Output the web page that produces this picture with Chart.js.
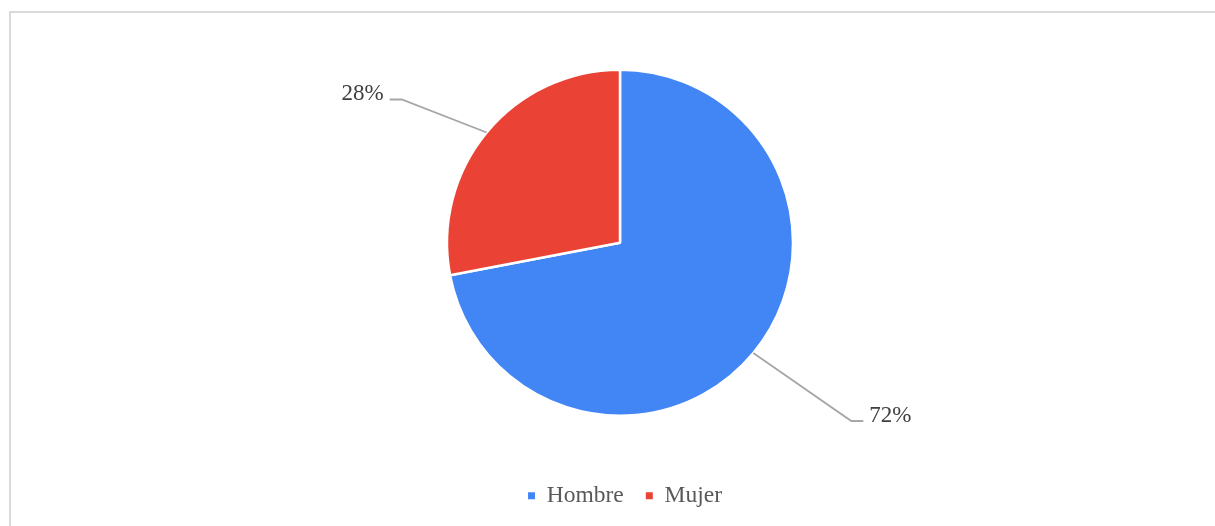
<!DOCTYPE html>
<html>
<head>
<meta charset="utf-8">
<script src="https://cdn.jsdelivr.net/npm/chart.js@4.4.1/dist/chart.umd.min.js"></script>
<style>
  html, body { margin: 0; padding: 0; background: #ffffff; }
  #wrap { position: relative; width: 1215px; height: 526px; overflow: hidden; }
  #frame {
    position: absolute; left: 9px; top: 11px; right: -4px; bottom: -4px;
    border-left: 2px solid #d9d9d9; border-top: 2px solid #d9d9d9;
  }
  #chart { position: absolute; left: 0; top: 0; }
</style>
</head>
<body>
<div id="wrap">
  <div id="frame"></div>
  <canvas id="chart" width="1215" height="526"></canvas>
</div>
<script>
// Gender split of respondents
const categories = ['Hombre', 'Mujer'];
const shares = [72, 28];
const valueLabels = ['72%', '28%'];
const sliceColors = ['#4285F4', '#EA4335'];

const FONT = "'Liberation Serif', 'Times New Roman', serif";

// Draws each slice's percentage with an elbow leader line.
const leaderLabels = {
  id: 'leaderLabels',
  afterDatasetsDraw(chart, args, opts) {
    const ctx = chart.ctx;
    const meta = chart.getDatasetMeta(0);
    meta.data.forEach((arc, i) => {
      const p = arc.getProps(['x', 'y', 'startAngle', 'endAngle', 'outerRadius'], true);
      const mid = (p.startAngle + p.endAngle) / 2;
      const ex = p.x + Math.cos(mid) * p.outerRadius;
      const ey = p.y + Math.sin(mid) * p.outerRadius;
      const off = opts.elbows[i];
      const bx = ex + off[0];
      const by = ey + off[1];
      const dir = Math.cos(mid) >= 0 ? 1 : -1;
      const tx = bx + dir * opts.tail;
      ctx.save();
      ctx.strokeStyle = opts.lineColor;
      ctx.lineWidth = opts.lineWidth;
      ctx.beginPath();
      ctx.moveTo(ex, ey);
      ctx.lineTo(bx, by);
      ctx.lineTo(tx, by);
      ctx.stroke();
      ctx.fillStyle = opts.color;
      ctx.font = opts.font;
      ctx.textBaseline = 'alphabetic';
      ctx.textAlign = dir > 0 ? 'left' : 'right';
      ctx.fillText(valueLabels[i], tx + dir * opts.gap, by + 1);
      ctx.restore();
    });
  }
};

// Nudges the legend block sideways after layout.
const legendShift = {
  id: 'legendShift',
  afterLayout(chart, args, opts) {
    const lg = chart.legend;
    if (lg) { lg.left += opts.dx; lg.right += opts.dx; }
  }
};

new Chart(document.getElementById('chart'), {
  type: 'pie',
  data: {
    labels: categories,
    datasets: [{
      data: shares,
      backgroundColor: sliceColors,
      borderColor: '#ffffff',
      borderWidth: 2.5,
      radius: 173
    }]
  },
  options: {
    responsive: false,
    animation: false,
    layout: { padding: { left: 25, right: 0, top: 23.5, bottom: 8.5 } },
    plugins: {
      tooltip: { enabled: false },
      legend: {
        position: 'bottom',
        labels: {
          boxWidth: 7,
          boxHeight: 7,
          padding: 22,
          color: '#595959',
          font: { family: FONT, size: 23.5 },
          generateLabels(chart) {
            const items = Chart.controllers.pie.overrides.plugins.legend.labels.generateLabels(chart);
            items.forEach(it => { it.lineWidth = 0; it.strokeStyle = it.fillStyle; });
            return items;
          }
        }
      },
      legendShift: { dx: 5 },
      leaderLabels: {
        elbows: [[98, 68], [-85, -33]],
        tail: 12,
        gap: 6,
        lineColor: '#a6a6a6',
        lineWidth: 1.8,
        color: '#404040',
        font: '23px ' + FONT
      }
    }
  },
  plugins: [leaderLabels, legendShift]
});
</script>
</body>
</html>
